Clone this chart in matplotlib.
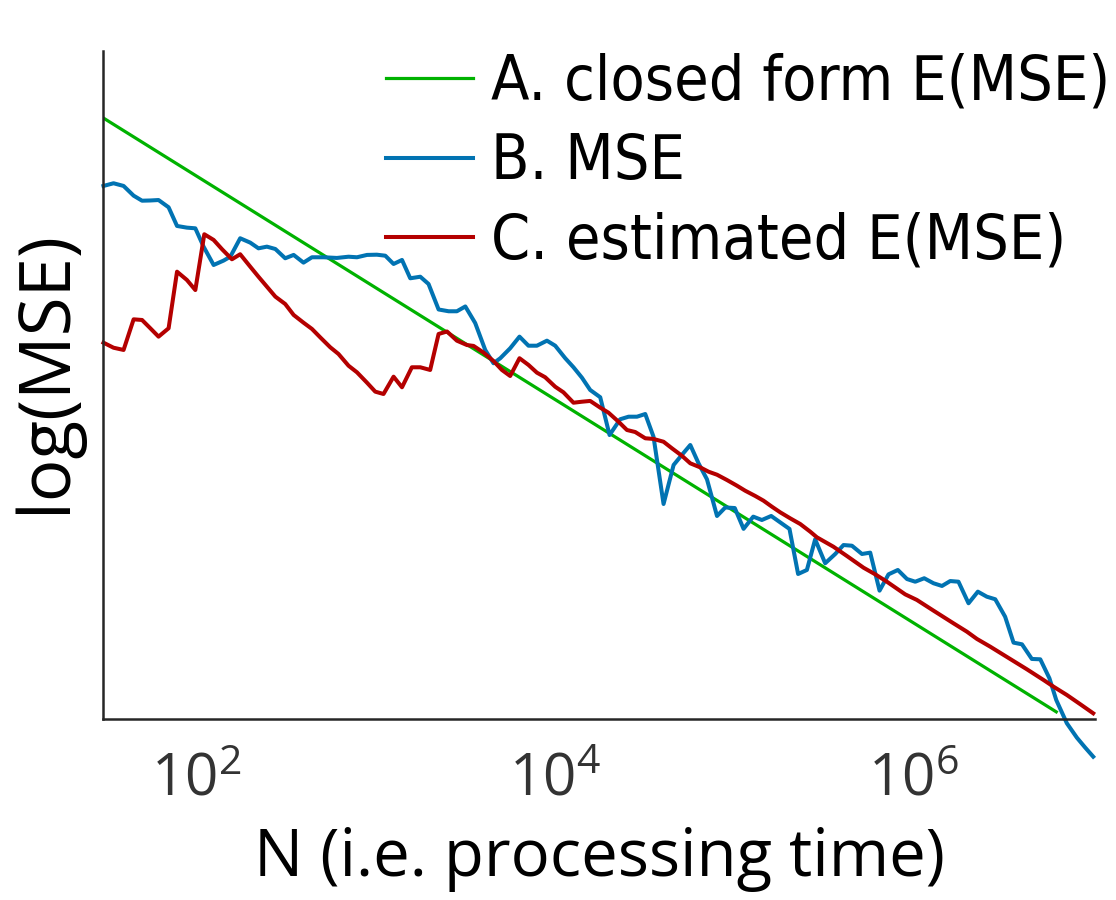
import numpy as np
import matplotlib
matplotlib.use("Agg")
import matplotlib.pyplot as plt
from matplotlib.ticker import LogFormatterSciNotation, NullLocator

plt.rcParams['font.family'] = ['Open Sans', 'DejaVu Sans']
plt.rcParams['mathtext.fontset'] = 'custom'
plt.rcParams['mathtext.rm'] = 'Open Sans'
plt.rcParams['mathtext.it'] = 'Open Sans'
plt.rcParams['mathtext.bf'] = 'Open Sans'

# ---------------- data (log10 N , log10 MSE) ----------------
closed_logN = [1.482, 6.794]
closed_logMSE = [-1.482, -6.794]

mse_logN = [1.483, 1.539, 1.595, 1.651, 1.698, 1.744, 1.790, 1.846, 1.893, 1.948,
            1.995, 2.041, 2.097, 2.152, 2.190, 2.245, 2.301, 2.347, 2.394, 2.441,
            2.496, 2.543, 2.598, 2.645, 2.710, 2.784, 2.849, 2.896, 2.952, 3.007,
            3.054, 3.100, 3.147, 3.193, 3.249, 3.295, 3.351, 3.407, 3.453, 3.500,
            3.555, 3.611, 3.657, 3.695, 3.750, 3.802, 3.852, 3.899, 3.955, 4.001,
            4.057, 4.103, 4.150, 4.196, 4.252, 4.304, 4.363, 4.410, 4.457, 4.503,
            4.549, 4.605, 4.661, 4.707, 4.754, 4.800, 4.847, 4.903, 4.949, 5.002,
            5.051, 5.105, 5.153, 5.205, 5.255, 5.307, 5.355, 5.404, 5.450, 5.506,
            5.562, 5.608, 5.655, 5.711, 5.757, 5.809, 5.859, 5.911, 5.962, 6.008,
            6.058, 6.110, 6.157, 6.203, 6.249, 6.305, 6.357, 6.407, 6.454, 6.509,
            6.556, 6.603, 6.658, 6.705, 6.756, 6.794, 6.853, 6.909, 6.955, 7.000]
mse_logMSE = [-2.090, -2.066, -2.090, -2.177, -2.222, -2.220, -2.216, -2.281, -2.448, -2.463,
              -2.469, -2.633, -2.797, -2.758, -2.723, -2.558, -2.597, -2.648, -2.633, -2.654,
              -2.737, -2.707, -2.776, -2.728, -2.728, -2.734, -2.723, -2.728, -2.707, -2.705,
              -2.714, -2.788, -2.752, -2.916, -2.902, -2.967, -3.195, -3.211, -3.211, -3.168,
              -3.316, -3.557, -3.676, -3.631, -3.542, -3.438, -3.519, -3.519, -3.474, -3.519,
              -3.631, -3.712, -3.805, -3.915, -3.980, -4.318, -4.177, -4.154, -4.154, -4.130,
              -4.333, -4.935, -4.586, -4.496, -4.407, -4.571, -4.714, -5.042, -4.966, -4.971,
              -5.157, -5.048, -5.078, -5.042, -5.099, -5.158, -5.561, -5.525, -5.251, -5.465,
              -5.382, -5.302, -5.308, -5.382, -5.370, -5.710, -5.564, -5.525, -5.606, -5.630,
              -5.599, -5.644, -5.668, -5.624, -5.630, -5.823, -5.719, -5.764, -5.787, -5.943,
              -6.175, -6.190, -6.321, -6.324, -6.494, -6.688, -6.896, -7.025, -7.113, -7.195]

est_logN = [1.483, 1.539, 1.595, 1.651, 1.698, 1.744, 1.790, 1.846, 1.893, 1.948,
            1.995, 2.045, 2.097, 2.145, 2.199, 2.245, 2.301, 2.347, 2.394, 2.441,
            2.496, 2.543, 2.598, 2.645, 2.691, 2.747, 2.793, 2.849, 2.896, 2.952,
            2.998, 3.044, 3.100, 3.147, 3.202, 3.249, 3.304, 3.351, 3.398, 3.453,
            3.509, 3.546, 3.602, 3.657, 3.704, 3.750, 3.802, 3.852, 3.899, 3.945,
            4.001, 4.047, 4.103, 4.150, 4.196, 4.252, 4.298, 4.354, 4.401, 4.447,
            4.503, 4.549, 4.605, 4.652, 4.707, 4.754, 4.809, 4.856, 4.903, 4.958,
            5.014, 5.060, 5.116, 5.162, 5.209, 5.255, 5.311, 5.367, 5.423, 5.460,
            5.552, 5.627, 5.720, 5.785, 5.850, 5.952, 6.017, 6.110, 6.221, 6.296,
            6.352, 6.426, 6.537, 6.630, 6.723, 6.779, 6.853, 6.928, 7.000]
est_logMSE = [-3.492, -3.537, -3.557, -3.283, -3.289, -3.363, -3.438, -3.363, -2.857, -2.931,
              -3.021, -2.522, -2.573, -2.658, -2.746, -2.701, -2.812, -2.902, -2.991, -3.080,
              -3.146, -3.244, -3.313, -3.369, -3.444, -3.533, -3.593, -3.698, -3.757, -3.850,
              -3.930, -3.951, -3.796, -3.891, -3.712, -3.712, -3.736, -3.414, -3.392, -3.474,
              -3.513, -3.521, -3.581, -3.656, -3.736, -3.790, -3.631, -3.691, -3.760, -3.801,
              -3.886, -3.936, -4.029, -4.020, -4.013, -4.073, -4.118, -4.199, -4.273, -4.291,
              -4.347, -4.353, -4.378, -4.437, -4.503, -4.571, -4.607, -4.646, -4.673, -4.720,
              -4.771, -4.816, -4.863, -4.905, -4.959, -5.009, -5.063, -5.114, -5.183, -5.233,
              -5.317, -5.400, -5.505, -5.564, -5.630, -5.743, -5.793, -5.889, -6.002, -6.077,
              -6.142, -6.211, -6.321, -6.413, -6.509, -6.569, -6.643, -6.726, -6.807]

labels = ["A. closed form E(MSE)", "B. MSE", "C. estimated E(MSE)"]
colors = ["#00b200", "#0173b2", "#b40000"]
xtick_values = [1e2, 1e4, 1e6]

# ---------------- figure ----------------
fig = plt.figure(figsize=(11.16, 9.0), dpi=100)
ax = fig.add_axes([103.3 / 1116, 181 / 900, (1095 - 103.3) / 1116, (719 - 51) / 900])

ax.plot(10 ** np.array(closed_logN), closed_logMSE, color=colors[0], lw=2.3, label=labels[0])
ax.plot(10 ** np.array(mse_logN), mse_logMSE, color=colors[1], lw=2.9, label=labels[1], clip_on=False)
ax.plot(10 ** np.array(est_logN), est_logMSE, color=colors[2], lw=2.9, label=labels[2], clip_on=False)

ax.set_xscale('log')
ax.set_xlim(10 ** 1.482, 10 ** 7.01)
ax.set_ylim(-6.858, -0.883)

ax.set_xticks(xtick_values)
ax.xaxis.set_major_formatter(LogFormatterSciNotation())
ax.xaxis.set_minor_locator(NullLocator())
ax.yaxis.set_major_locator(NullLocator())
ax.yaxis.set_minor_locator(NullLocator())
ax.tick_params(axis='x', length=0, pad=23, labelsize=42, colors='#333333')

for s in ['top', 'right']:
    ax.spines[s].set_visible(False)
for s in ['left', 'bottom']:
    ax.spines[s].set_color('#262626')
    ax.spines[s].set_linewidth(1.8)

ax.set_xlabel("N (i.e. processing time)", fontsize=47, color='black', labelpad=12)
ax.set_ylabel("log(MSE)", fontsize=51, color='black', labelpad=16)
ax.yaxis.set_label_coords(-0.021, 0.52)

leg = ax.legend(loc='upper right', bbox_to_anchor=(1110 / 1116, 847 / 900),
                bbox_transform=fig.transFigure, frameon=False,
                prop={'family': 'DejaVu Sans', 'stretch': 'condensed', 'size': 45},
                handlelength=1.4, handletextpad=0.28,
                labelspacing=0.31, borderaxespad=0, borderpad=0)

fig.savefig("out.png", dpi=100)
